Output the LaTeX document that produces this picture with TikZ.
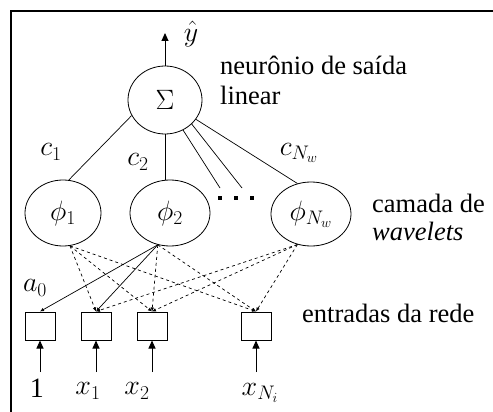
\documentclass[tikz,border=0pt]{standalone}
\usepackage{fix-cm}
\usepackage{fontspec}
\setmainfont{Liberation Serif}
\usetikzlibrary{arrows.meta,shapes.geometric}
\begin{document}
\begin{tikzpicture}[x=1pt,y=-1pt,
  neuron/.style={ellipse, draw, line width=0.8pt, inner sep=0pt, font=\fontsize{28}{32}\selectfont},
  inbox/.style={rectangle, draw, line width=1pt, minimum width=30pt, minimum height=28pt, inner sep=0pt},
  conn/.style={line width=0.7pt},
  dconn/.style={line width=0.7pt, dash pattern=on 3pt off 3pt},
  arr/.style={-{Latex[length=4pt,width=3.5pt]}},
  bigarrow/.style={line width=1pt,-{Triangle[length=8pt,width=7pt]}},
  lbl/.style={inner sep=0pt, font=\fontsize{28}{32}\selectfont},
  txt/.style={inner sep=0pt, anchor=base west, font=\fontsize{26.5}{30}\selectfont},
  dotsq/.style={rectangle, fill=black, minimum size=4.5pt, inner sep=0pt}]
\useasboundingbox (0,0) rectangle (493,412);
\begin{scope}
\clip (0,0) rectangle (493,412);
\draw[line width=1.5pt] (11,11) rectangle (520,440);
\end{scope}
% output neuron
\node[neuron, minimum width=74pt, minimum height=68pt] (s) at (165,100) {$\Sigma$};
\coordinate (yout) at (165,33);
\draw[bigarrow] (s) -- (yout);
\node[lbl] (yhat) at (191,34) {$\hat{y}$};
\node[txt] (t1) at (220,75) {neurônio de saída};
\node[txt] (t2) at (220,105) {linear};
% wavelet layer
\node[neuron, minimum width=76pt, minimum height=66pt] (p1) at (63,213) {$\phi_1$};
\node[neuron, minimum width=80pt, minimum height=66pt] (p2) at (170,213) {$\phi_2$};
\node[neuron, minimum width=80pt, minimum height=64pt] (pn) at (311,214) {$\phi_{N_w}$};
\node[dotsq] (d1) at (220,198) {};
\node[dotsq] (d2) at (236,198) {};
\node[dotsq] (d3) at (252,198) {};
\coordinate (e1) at (220,188);
\coordinate (e2) at (242,188);
\node[txt] (t3) at (372,212) {camada de};
\node[txt] (t4) at (372,240) {\textit{wavelets}};
% weights
\draw[conn] (s.205) -- (p1.80);
\draw[conn] (s.south) -- (s.south |- p2.north);
\draw[conn] (s.-59) -- (e1);
\draw[conn] (s.-42) -- (e2);
\draw[conn] (s.-32) -- (pn.114);
\node[lbl] (c1) at (51,152) {$c_1$};
\node[lbl] (c2) at (138,162) {$c_2$};
\node[lbl] (cn) at (299,153) {$c_{N_w}$};
% inputs
\node[inbox] (b1) at (40,326) {};
\node[inbox] (b2) at (96,326) {};
\node[inbox] (b3) at (152,326) {};
\node[inbox] (b4) at (256,326) {};
\node[txt] (t5) at (302,322) {entradas da rede};
\node[lbl] (a0) at (35,288) {$a_0$};
\coordinate (u1) at (40,372);
\coordinate (u2) at (96,372);
\coordinate (u3) at (152,372);
\coordinate (u4) at (256,372);
\draw[bigarrow] (u1) -- (b1);
\draw[bigarrow] (u2) -- (b2);
\draw[bigarrow] (u3) -- (b3);
\draw[bigarrow] (u4) -- (b4);
\node[lbl] (l1) at (37,388) {1};
\node[lbl] (lx1) at (88,391) {$x_1$};
\node[lbl] (lx2) at (137,391) {$x_2$};
\node[lbl] (lxn) at (260,393) {$x_{N_i}$};
% input-to-wavelet connections
\coordinate (q1) at (p1.-78);
\coordinate (q2) at (p2.-111);
\coordinate (qn) at (pn.-114);
\draw[conn,arr] (q2) -- (b1.north);
\draw[conn,arr] (q2) -- (b2.north);
\draw[dconn,arr] (q2) -- (b3.north);
\draw[dconn,arr] (q2) -- (b4.north);
\draw[dconn,arr] (q1) -- (b2.north);
\draw[dconn,arr] (q1) -- (b3.north);
\draw[dconn,arr] (q1) -- (b4.north);
\draw[dconn,arr] (qn) -- (b2.north);
\draw[dconn,arr] (qn) -- (b3.north);
\draw[dconn,arr] (qn) -- (b4.north);
\end{tikzpicture}
\end{document}
